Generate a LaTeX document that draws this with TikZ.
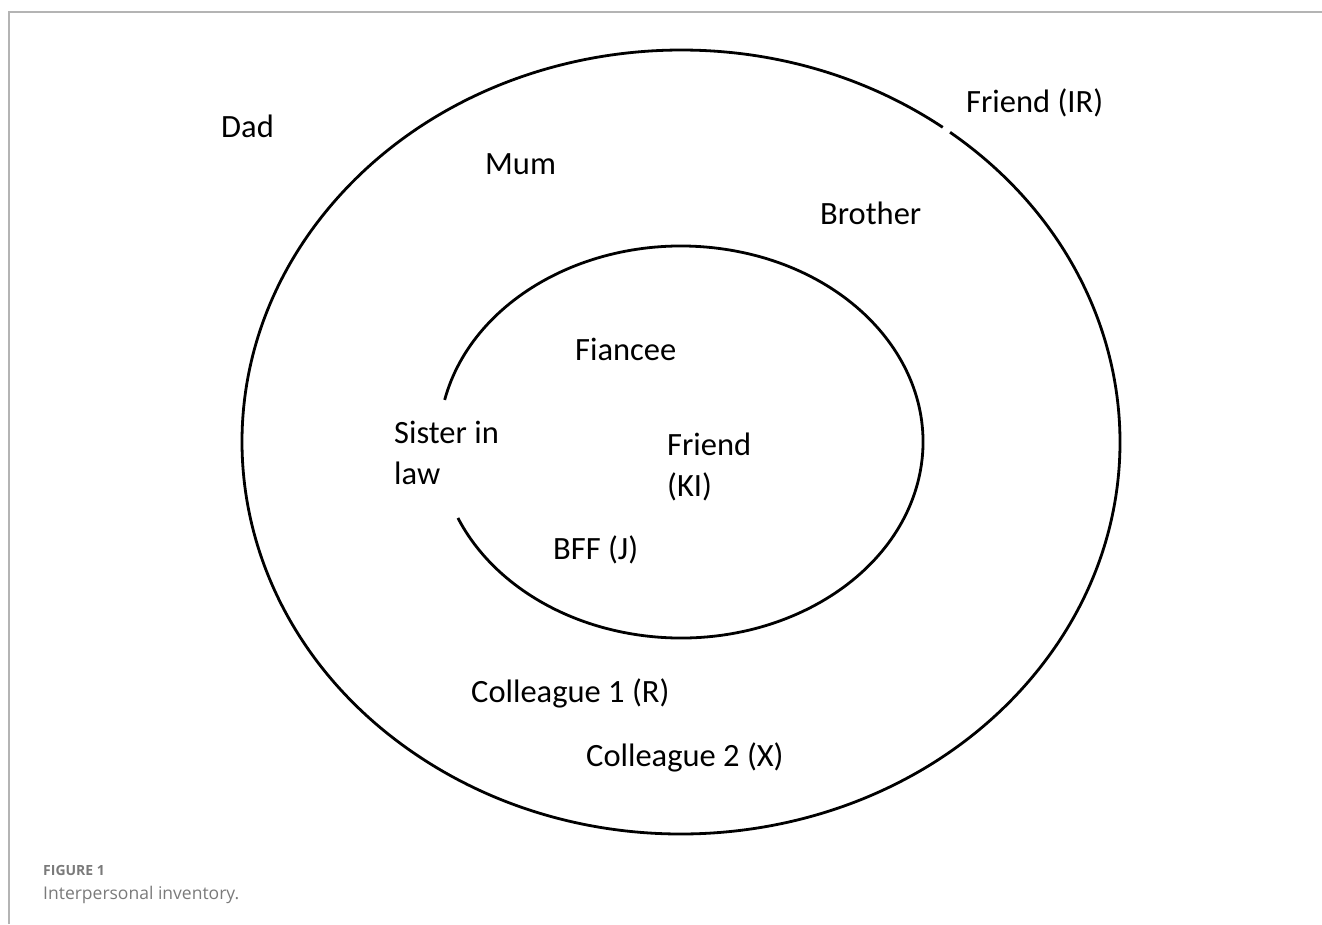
\documentclass[tikz,border=0pt]{standalone}
\usepackage{fontspec}
\setmainfont{Carlito}
\newfontfamily\capfont{Open Sans}
\definecolor{framegray}{HTML}{B4B4B4}
\definecolor{capgray}{HTML}{7A7A7A}
\tikzset{
    person/.style={anchor=base west, inner sep=0pt, align=left, font=\fontsize{32.5}{40.5}\selectfont},
    ring/.style={line width=2.8pt, black},
}
\begin{document}
\begin{tikzpicture}[x=1pt,y=-1pt]
    \useasboundingbox (0,0) rectangle (1322,924);

    % Page frame (top and left only)
    \draw[framegray, line width=1.5pt] (9,924) -- (9,12) -- (1322,12);

    % Outer circle, with a small break near Friend (IR)
    \draw[ring] (681,442) ++(307.8:439 and 392)
        arc[start angle=307.8, end angle=666.6, x radius=439, y radius=392];

    % Inner circle, open on the left where Sister in law sits
    \draw[ring] (681,442) ++(192.4:242 and 196)
        arc[start angle=192.4, end angle=517.2, x radius=242, y radius=196];

    % People
    \foreach \name/\x/\y/\who in {dad/221/137/Dad, mum/485/174/Mum, brother/820/224/Brother,
        friendir/966/112/Friend (IR), fiancee/575/360/Fiancee, bff/553/559/BFF (J),
        colleaguer/471/702/Colleague 1 (R), colleaguex/586/766/Colleague 2 (X)}
        \node[person] (\name) at (\x,\y) {\who};
    % two-line labels: base is the second line
    \node[person] (sister) at (394,484) {Sister in\\law};
    \node[person] (friendki) at (667,496) {Friend\\(KI)};

    % Caption
    \node[anchor=base west, inner sep=0pt, text=capgray, font=\capfont\bfseries\fontsize{14}{16}\selectfont] (figlabel) at (43,875) {FIGURE 1};
    \node[anchor=base west, inner sep=0pt, text=capgray, font=\capfont\fontsize{17.5}{20}\selectfont] (figtitle) at (43,899) {Interpersonal inventory.};
\end{tikzpicture}
\end{document}
